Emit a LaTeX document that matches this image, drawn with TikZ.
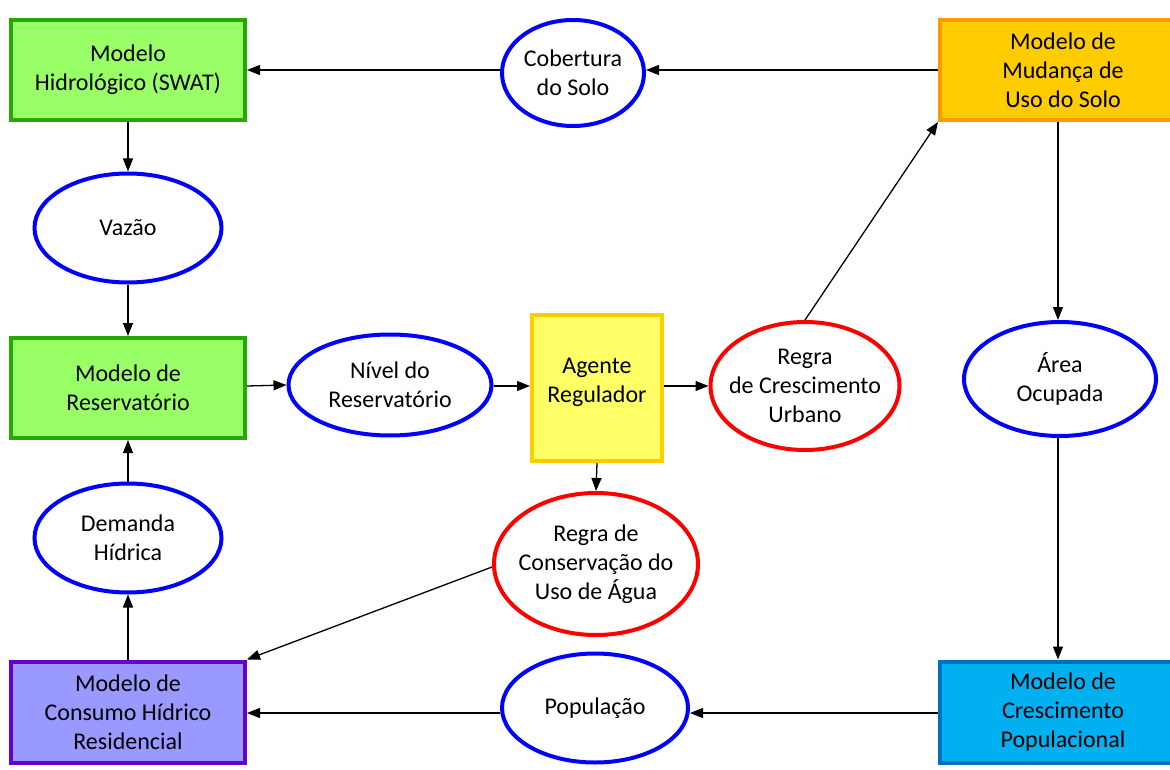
\documentclass[tikz,border=0pt]{standalone}
\usepackage{fontspec}
\setmainfont{Carlito}
\usetikzlibrary{shapes.geometric,arrows.meta}
\definecolor{gfill}{HTML}{99FF66}
\definecolor{gline}{HTML}{22AA00}
\definecolor{ofill}{HTML}{FFCC00}
\definecolor{oline}{HTML}{FF9900}
\definecolor{yfill}{HTML}{FFFF66}
\definecolor{yline}{HTML}{FFCC00}
\definecolor{pfill}{HTML}{9999FF}
\definecolor{pline}{HTML}{6600CC}
\definecolor{bfill}{HTML}{00B0F0}
\definecolor{bline}{HTML}{0070C0}
\tikzset{
  box/.style={draw, rectangle, line width=4pt, align=center, inner sep=0pt,
    font=\fontsize{24}{29}\selectfont},
  ell/.style={draw, ellipse, line width=4pt, align=center, inner sep=0pt,
    font=\fontsize{24}{29}\selectfont},
  blueell/.style={ell, draw=blue},
  redell/.style={ell, draw=red, inner xsep=-14pt},
  arr/.style={-{Triangle[length=13pt,width=10pt]}, line width=1.3pt}
}
\begin{document}
\begin{tikzpicture}[x=1pt,y=-1pt]
\useasboundingbox (0,0) rectangle (1170,770);
% boxes
\node[box, fill=gfill, draw=gline, minimum width=234pt, minimum height=100pt] (hid) at (128,70) {Modelo\\Hidrológico (SWAT)};
\node[box, fill=gfill, draw=gline, minimum width=234pt, minimum height=100pt] (res) at (128,388) {Modelo de\\Reservatório};
\node[box, fill=pfill, draw=pline, minimum width=234pt, minimum height=101pt] (con) at (128,712) {Modelo de\\Consumo Hídrico\\Residencial};
\node[box, fill=ofill, draw=oline, minimum width=246pt, minimum height=100pt] (mud) at (1063,70) {Modelo de\\Mudança de\\Uso do Solo};
\node[box, fill=bfill, draw=bline, minimum width=246pt, minimum height=101pt] (pop) at (1063,712) {Modelo de\\Crescimento\\Populacional};
\node[box, fill=yfill, draw=yline, minimum width=130pt, minimum height=146pt] (age) at (597,388) {};
\node[font=\fontsize{24}{29}\selectfont, align=center] at (597,382) {Agente\\Regulador};
% ellipses
\node[blueell, minimum width=142pt, minimum height=106pt] (cob) at (573,73) {Cobertura\\do Solo};
\node[blueell, minimum width=187pt, minimum height=109pt] (vaz) at (128,228) {Vazão};
\node[blueell, minimum width=203pt, minimum height=101pt] (niv) at (390,385) {Nível do\\Reservatório};
\node[blueell, minimum width=192pt, minimum height=114pt] (are) at (1060,379) {Área\\Ocupada};
\node[blueell, minimum width=187pt, minimum height=109pt] (dem) at (128,538) {Demanda\\Hídrica};
\node[blueell, minimum width=186pt, minimum height=109pt] (popu) at (595,708) {População};
\node[redell, minimum width=189pt, minimum height=128pt] (rcu) at (805,386) {Regra\\de Crescimento\\Urbano};
\node[redell, minimum width=204pt, minimum height=142pt] (rca) at (596,564) {Regra de\\Conservação do\\Uso de Água};
% arrows
\draw[arr] (cob.west |- 0,70) -- (hid.east |- 0,70);
\draw[arr] (mud.west |- 0,70) -- (cob.east |- 0,70);
\draw[arr] (hid.south) -- (vaz.north);
\draw[arr] (vaz.south) -- (res.north);
\draw[arr] (res.east |- 0,386) -- (niv.west);
\draw[arr] (niv.east |- 0,386) -- (age.west |- 0,386);
\draw[arr] (age.east |- 0,386) -- (rcu.west |- 0,386);
\draw[arr] (rcu.north) -- (mud.south west);
\draw[arr] (mud.south -| 1058,0) -- (are.north -| 1058,0);
\draw[arr] (are.south -| 1058,0) -- (pop.north -| 1058,0);
\draw[arr] (pop.west |- 0,713) -- (popu.east |- 0,713);
\draw[arr] (popu.west |- 0,713) -- (con.east |- 0,713);
\draw[arr] (rca.west |- 0,567) -- (con.north east);
\draw[arr] (age.south) -- (rca.north);
\draw[arr] (con.north) -- (dem.south);
\draw[arr] (dem.north) -- (res.south);
\end{tikzpicture}
\end{document}
